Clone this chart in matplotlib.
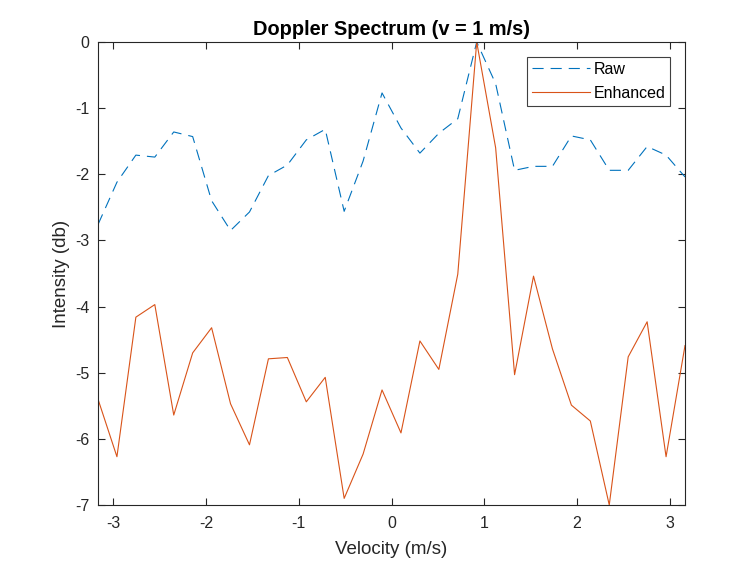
import numpy as np
import matplotlib
matplotlib.use("Agg")
import matplotlib.pyplot as plt

# Data
velocity = np.linspace(-3.165, 3.165, 32)
raw = [-2.76, -2.12, -1.71, -1.74, -1.36, -1.43, -2.40, -2.85, -2.57, -2.02,
       -1.86, -1.48, -1.32, -2.56, -1.80, -0.77, -1.30, -1.68, -1.38, -1.16,
       0.0, -0.63, -1.94, -1.88, -1.88, -1.42, -1.48, -1.94, -1.94, -1.58,
       -1.71, -2.04]
enhanced = [-5.40, -6.27, -4.16, -3.97, -5.64, -4.70, -4.32, -5.47, -6.09, -4.79,
            -4.77, -5.44, -5.07, -6.90, -6.23, -5.26, -5.91, -4.52, -4.95, -3.51,
            0.0, -1.60, -5.03, -3.54, -4.64, -5.49, -5.73, -7.00, -4.76, -4.23,
            -6.27, -4.59]
xticks = [-3, -2, -1, 0, 1, 2, 3]
yticks = [-7, -6, -5, -4, -3, -2, -1, 0]

plt.rcParams['font.family'] = ['Liberation Sans', 'DejaVu Sans']

fig = plt.figure(figsize=(7.56, 5.66), dpi=100)
ax = fig.add_axes([98/756, 61/566, 587/756, 463/566])

ax.plot(velocity, raw, color='#0072BD', linestyle=(0, (10, 6.3)), linewidth=0.8, label='Raw')
ax.plot(velocity, enhanced, color='#D95319', linewidth=0.8, label='Enhanced')

ax.set_xlim(-3.165, 3.165)
ax.set_ylim(-7, 0)
ax.set_xticks(xticks)
ax.set_yticks(yticks)
ax.set_xticklabels([str(t) for t in xticks])
ax.set_yticklabels([str(t) for t in yticks])

edge = '#262626'
for s in ax.spines.values():
    s.set_color(edge)
    s.set_linewidth(0.8)
ax.tick_params(direction='in', top=True, right=True, length=5, width=0.8,
               colors=edge, labelsize=11.5)
ax.tick_params(axis='x', pad=8)
ax.tick_params(axis='y', pad=6)

ax.set_xlabel('Velocity (m/s)', fontsize=13.5, color=edge, labelpad=7)
ax.set_ylabel('Intensity (db)', fontsize=13.5, color=edge, labelpad=4)
ax.set_title('Doppler Spectrum (v = 1 m/s)', fontsize=14.4, fontweight='bold', pad=5)

leg = ax.legend(loc='upper right', bbox_to_anchor=(0.9745, 0.967), fontsize=11.5,
                fancybox=False, framealpha=1, edgecolor='#404040',
                handlelength=3.65, handletextpad=0.2, borderpad=0.3,
                labelspacing=0.55, borderaxespad=0)
leg.get_frame().set_linewidth(0.8)

fig.savefig('out.png', dpi=100)
